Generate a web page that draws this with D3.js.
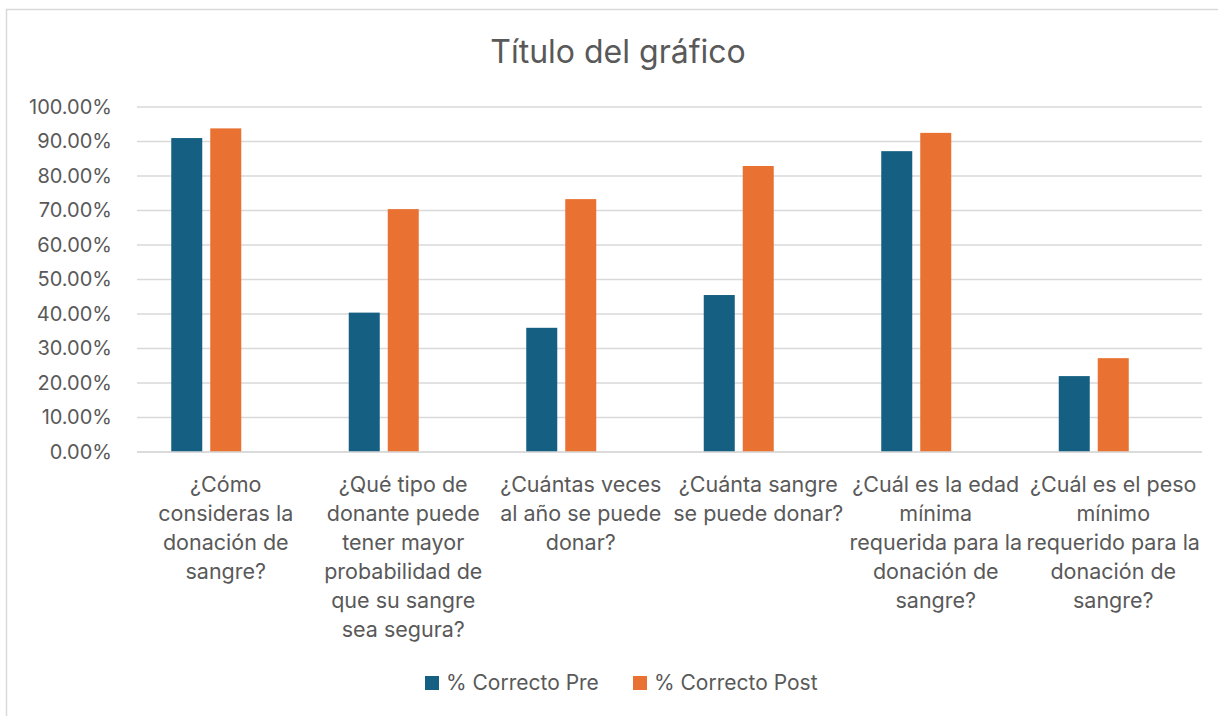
<!DOCTYPE html>
<html>
<head>
<meta charset="utf-8">
<script src="https://cdn.jsdelivr.net/npm/d3@7"></script>
<style>
  body { margin: 0; background: #fff; }
  text { font-family: Inter, 'Noto Sans', sans-serif; fill: #595959; }
</style>
</head>
<body>
<script>
// data
let categories = [
  '¿Cómo\nconsideras la\ndonación de\nsangre?',
  '¿Qué tipo de\ndonante puede\ntener mayor\nprobabilidad de\nque su sangre\nsea segura?',
  '¿Cuántas veces\nal año se puede\ndonar?',
  '¿Cuánta sangre\nse puede donar?',
  '¿Cuál es la edad\nmínima\nrequerida para la\ndonación de\nsangre?',
  '¿Cuál es el peso\nmínimo\nrequerido para la\ndonación de\nsangre?'
];
let seriesNames = ['% Correcto Pre', '% Correcto Post'];
let preValues = [0.91, 0.404, 0.36, 0.455, 0.872, 0.22];
let postValues = [0.938, 0.704, 0.733, 0.829, 0.925, 0.272];
let yTicks = [0, 0.1, 0.2, 0.3, 0.4, 0.5, 0.6, 0.7, 0.8, 0.9, 1.0];
let colors = ['#156082', '#E97132'];

let width = 1218, height = 716;
let plot = {left: 137, right: 1202, top: 107, bottom: 452};

let svg = d3.select('body').append('svg')
    .attr('width', width)
    .attr('height', height);

// chart border
svg.append('rect')
    .attr('x', 6.5).attr('y', 9.5)
    .attr('width', 1230).attr('height', 730)
    .attr('fill', '#fff')
    .attr('stroke', '#d9d9d9')
    .attr('stroke-width', 1.5);

// scales
let x = d3.scaleBand()
    .domain(categories)
    .range([plot.left, plot.right]);

// three slots per cluster (the third one stays empty, as in the original)
let xInner = d3.scaleBand()
    .domain([0, 1, 2])
    .range([-54.5, 54.5])
    .paddingInner(0.205);

let y = d3.scaleLinear()
    .domain([0, 1])
    .range([plot.bottom, plot.top]);

// title
svg.append('text')
    .attr('x', 618)
    .attr('y', 63)
    .attr('text-anchor', 'middle')
    .attr('font-size', '32px')
    .text('Título del gráfico');

// gridlines
svg.append('g')
    .selectAll('line')
    .data(yTicks)
    .enter().append('line')
    .attr('x1', plot.left)
    .attr('x2', plot.right)
    .attr('y1', d => y(d))
    .attr('y2', d => y(d))
    .attr('stroke', '#d9d9d9')
    .attr('stroke-width', 1.5);

// y axis labels
let yAxis = svg.append('g')
    .attr('transform', `translate(${plot.left},0)`)
    .call(d3.axisLeft(y).tickValues(yTicks).tickFormat(d3.format('.2%')).tickSize(0).tickPadding(25));
yAxis.select('.domain').remove();
yAxis.selectAll('text')
    .attr('font-size', '20px')
    .attr('font-family', "Inter, 'Noto Sans', sans-serif")
    .attr('fill', '#595959');

// bars
let series = [preValues, postValues];
series.forEach((vals, si) => {
  svg.append('g')
    .selectAll('rect')
    .data(vals)
    .enter().append('rect')
    .attr('x', (d, i) => x(categories[i]) + x.bandwidth() / 2 + xInner(si))
    .attr('y', d => y(d))
    .attr('width', xInner.bandwidth())
    .attr('height', d => y(0) - y(d))
    .attr('fill', colors[si]);
});

// baseline
svg.append('line')
    .attr('x1', plot.left).attr('x2', plot.right)
    .attr('y1', y(0)).attr('y2', y(0))
    .attr('stroke', '#d9d9d9')
    .attr('stroke-width', 1.5);

// category labels
let catLabels = svg.append('g')
    .selectAll('text')
    .data(categories)
    .enter().append('text')
    .attr('text-anchor', 'middle')
    .attr('font-size', '21.5px')
    .attr('transform', d => `translate(${x(d) + x.bandwidth() / 2},492)`);

catLabels.selectAll('tspan')
    .data(d => d.split('\n'))
    .enter().append('tspan')
    .attr('x', 0)
    .attr('y', (d, i) => i * 29)
    .text(d => d);

// legend
let legendX = [425, 633];
let legend = svg.append('g')
    .selectAll('g')
    .data(seriesNames)
    .enter().append('g')
    .attr('transform', (d, i) => `translate(${legendX[i]},676)`);

legend.append('rect')
    .attr('width', 14)
    .attr('height', 14)
    .attr('fill', (d, i) => colors[i]);

legend.append('text')
    .attr('x', 21)
    .attr('y', 13.5)
    .attr('font-size', '21px')
    .text(d => d);
</script>
</body>
</html>
